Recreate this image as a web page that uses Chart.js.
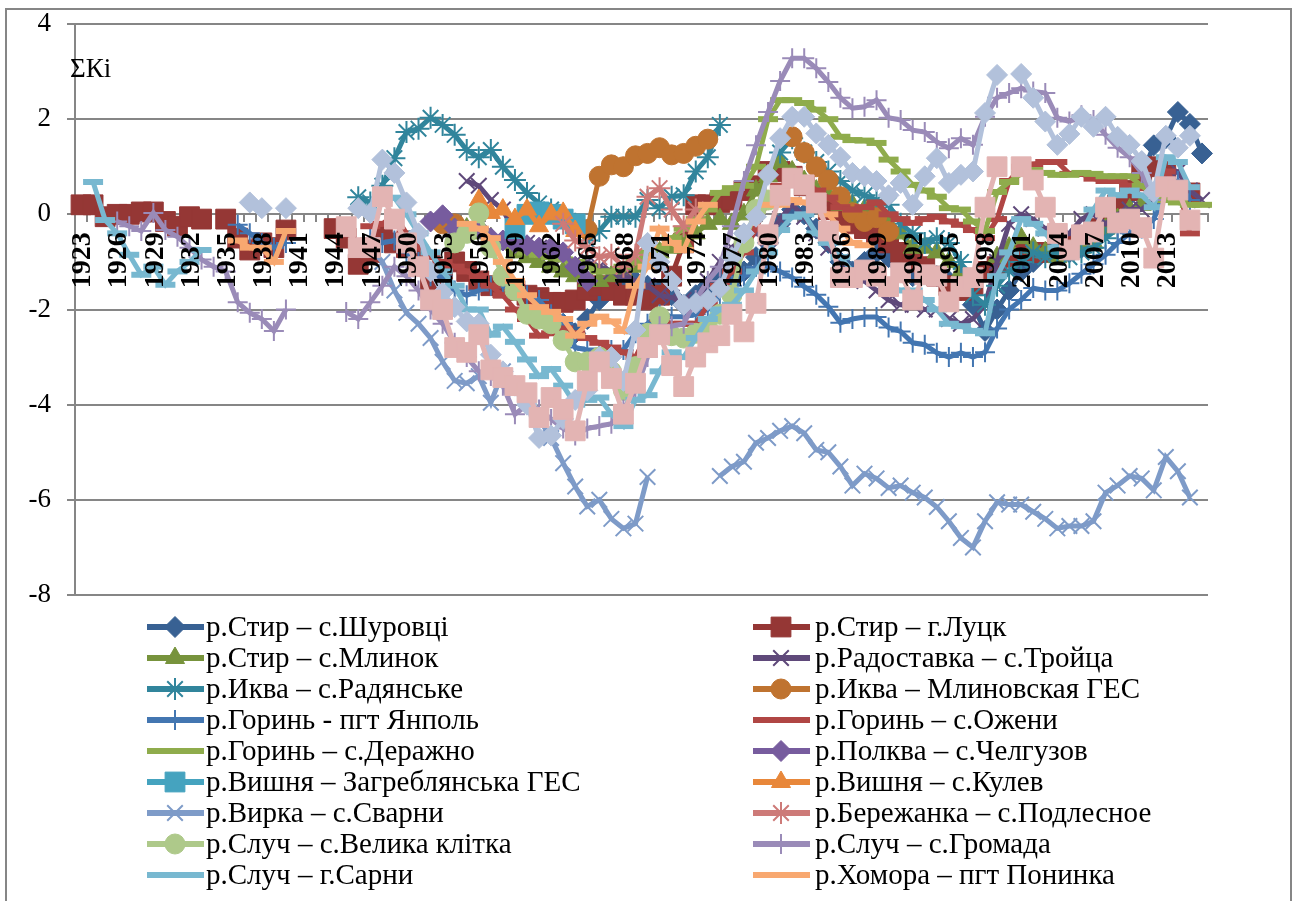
<!DOCTYPE html>
<html>
<head>
<meta charset="utf-8">
<style>
  html, body { margin: 0; padding: 0; background: #fff; overflow: hidden; }
  canvas { display: block; }
</style>
<script src="https://cdn.jsdelivr.net/npm/chart.js@4"></script>
</head>
<body>
<canvas id="chart" width="1293" height="901"></canvas>
<script>
const firstYear = 1923;
const lastYear = 2016;
const yTicks = [4, 2, 0, -2, -4, -6, -8];

const names = [
  "р.Стир – с.Шуровці", "р.Стир – г.Луцк",
  "р.Стир – с.Млинок", "р.Радоставка – с.Тройца",
  "р.Иква – с.Радянське", "р.Иква – Млиновская ГЕС",
  "р.Горинь - пгт Янполь", "р.Горинь – с.Ожени",
  "р.Горинь – с.Деражно", "р.Полква – с.Челгузов",
  "р.Вишня – Загреблянська ГЕС", "р.Вишня – с.Кулев",
  "р.Вирка – с.Сварни", "р.Бережанка – с.Подлесное",
  "р.Случ – с.Велика клітка", "р.Случ – с.Громада",
  "р.Случ – г.Сарни", "р.Хомора – пгт Понинка",
  "", ""
];

// first year of each series below
const starts = [1961, 1923, 1955, 1955, 1946, 1953, 1936, 1947, 1955, 1952, 1959, 1956, 1947, 1963, 1954, 1926, 1924, 1936, 1937, 1945];

const shurovtsi = [-1.9, -2.0, -2.3, -2.5, -2.2, -1.8, -1.5, -1.3, -1.4, -1.5, -1.6, -1.7, -1.9, -1.7, -1.5, -1.3, -1.4, -1.2, -0.9, -0.6, -0.2, 0.1, 0.0, -0.3, -0.6, -1.0, -1.2, -1.0, -0.8, -0.9, -1.1, -1.3, -1.2, -1.3, -1.4, -1.6, -1.9, -2.45, -2.0, -1.6, -1.2, -1.0, -0.8, -0.7, -0.8, -0.7, -0.5, -0.3, -0.1, 0.4, 0.8, 1.45, 1.6, 2.15, 1.9, 1.28];
const lutsk = [0.2, 0.2, -0.05, 0, 0, 0.05, 0.05, -0.15, -0.25, -0.05, -0.1, null, -0.1, -0.5, -0.75, -0.6, -0.7, -0.33, null, null, null, -0.3, -0.5, -1.05, -0.8, -0.4, -0.6, -0.7, -0.9, -1.4, -1.2, -1.0, -1.2, -1.4, -1.5, -1.55, -1.6, -1.7, -1.75, -1.85, -1.85, -1.8, -1.6, -1.5, -1.6, -1.7, -1.7, -1.8, -1.7, -1.3, -0.6, 0.2, 0.2, 0.25, 0.3, 0.5, 0.6, 0.9, 0.9, 0.8, 0.6, 0.3, 0.1, -0.1, -0.2, -0.3, -0.4, -0.6, -0.8, -1.0, -1.1, -1.3, -1.5, -1.6, -1.5, -1.2, -1.1, -0.9, -0.8, -0.8, -0.8, -0.7, -0.6, -0.5, -0.3, 0, 0.2, 0.5, 0.9, 1.0, 0.9, 0.5, 0.45];
const mlynok = [-0.3, -0.4, -0.5, -0.6, -0.8, -0.9, -1.0, -1.1, -1.2, -1.3, -1.4, -1.4, -1.3, -1.2, -1.1, -0.9, -0.8, -0.7, -0.6, -0.4, -0.2, -0.1, -0.2, 0, 0.5, 0.8, 1.1, 0.9, 0.7, 0.5, 0.4, 0.2, 0.2, 0.1, 0.1, -0.2, -0.4, -0.7, -0.7, -0.8, -1.0, -1.2, null, null, -0.9, -0.7, -0.5, -0.7, -0.8, -0.9, -0.8, -0.7, -0.6, -0.3, -0.1, 0.1, 0.2];
const radostavka = [0.7, 0.6, 0.3, 0.1, -0.4, -0.6, -0.7, -0.8, -0.9, -1.0, -1.0, -1.1, -1.2, -1.3, -1.4, -1.5, -1.7, -1.75, -1.8, -1.9, -1.4, -1.0, -0.7, -0.5, -0.4, -0.5, -0.1, 0.2, -0.05, -0.4, -0.7, -1.0, -1.2, -1.4, -1.6, -1.8, -1.9, -1.9, -2.0, -2.0, -2.2, -2.3, -2.2, -1.9, -1.0, -0.2, 0, -0.1, -0.3, -0.5, -0.4, -0.1, 0.0, -0.2, 0, 0.1, 0.1, 0.3, 0.8, 0.9, 0.5, 0.3];
const radianske = [0.36, 0.25, 0.6, 1.18, 1.73, 1.8, 2.03, 1.88, 1.67, 1.35, 1.2, 1.35, 1.0, 0.72, 0.45, 0.23, 0.1, -0.1, -0.2, -0.55, -0.35, -0.05, -0.05, -0.05, 0.3, 0.13, 0.37, 0.4, 0.9, 1.2, 1.88, null, null, null, null, 1.3, 1.6, 1.3, 1.1, 0.9, 0.7, 0.5, 0.4, 0.3, 0.2, -0.2, -0.4, -0.6, -0.5, -0.6, -1.0, -1.7, -1.9, -1.5, -1.2, -1.0, -0.8, -0.9, -0.8, -0.9, -0.8, -0.7, -0.5, -0.3];
const mlynivska = [-0.2, -0.2, null, null, null, null, null, null, null, null, null, null, -0.32, 0.8, 1.04, 1.0, 1.23, 1.28, 1.4, 1.25, 1.28, 1.43, 1.58, null, null, null, null, null, null, 1.63, 1.3, 1.0, 0.72, 0.37, 0.03, -0.15, -0.07, -0.36];
const yanpol = [-0.22, -0.4, -0.6, -0.7, -0.6, null, null, null, null, null, null, -0.5, -0.6, -0.55, -0.8, -1.0, -1.3, -1.3, -1.6, -1.7, -1.6, -1.5, -1.5, -1.6, -1.7, -1.8, -2.1, -2.3, -2.8, -2.85, -2.85, -2.85, -2.85, -2.5, -2.3, -2.1, -2.15, -2.15, -2.1, -2.0, -1.7, -1.5, -1.3, -1.1, -1.1, -1.2, -1.33, -1.52, -1.69, -1.94, -2.28, -2.2, -2.16, -2.16, -2.38, -2.46, -2.7, -2.74, -2.91, -3.0, -2.91, -3.0, -2.9, -2.4, -2.0, -1.8, -1.55, -1.6, -1.6, -1.45, -1.25, -1.05, -0.85, -0.6, -0.4, -0.3, -0.1, 0.5, 0.7, 0.3];
const ozheny = [-0.25, -0.2, 0, -0.4, -0.7, -0.9, -1.0, -1.1, -1.2, -1.3, -1.5, -1.7, -2.0, -2.2, -2.55, -2.5, -2.4, -2.5, -2.6, -2.7, -2.8, -2.9, -3.0, -2.5, -2.2, -2.3, -2.3, -2.3, -1.9, -1.5, -1.2, -0.8, -0.3, 0.3, 0.6, 0.7, 0.75, 0.5, 0.35, 0.15, 0.1, 0.15, 0.25, 0, -0.1, -0.18, -0.1, -0.05, -0.15, -0.22, -0.33, -0.5, -0.1, 0.7, 1.0, 1.05, 1.1, 1.1, 0.85, 0.85, 0.75, 0.7, 0.7, 0.6, 0.55, 0.5, 0.9, 0.6, -0.4];
const derazhno = [-0.3, -0.4, -0.5, -0.6, -0.7, -0.8, -0.85, -0.9, -0.95, -1.0, -1.1, -1.2, -1.2, -1.1, -1.0, -0.8, -0.7, -0.5, -0.3, -0.1, 0.1, 0.45, 0.55, 0.6, 1.0, 2.0, 2.4, 2.4, 2.34, 2.2, 2.0, 1.63, 1.56, 1.55, 1.5, 1.15, 0.9, 0.62, 0.5, 0.37, 0.13, 0.1, -0.15, -0.35, 0.47, 0.68, 0.85, 0.93, 0.87, 0.83, 0.83, 0.87, 0.85, 0.8, 0.8, 0.8, 0.6, 0.4, 0.3, 0.25, 0.2, 0.2];
const chelguzov = [-0.15, -0.02, -0.3, -0.35, -0.3, -0.5, -0.55, -0.6, -0.65, -0.7, -0.7, -0.8, -1.1, -1.4];
const zagreblia = [-0.3, 0, 0.05, 0, -0.1, -0.2];
const kulev = [0.3, 0.03, 0.1, -0.1, 0.1, -0.25, 0, 0.03, -0.35];
const svarny = [-0.7, -1.0, -1.6, -2.07, -2.3, -2.6, -3.1, -3.5, -3.55, -3.4, -3.96, -3.3, -3.7, -4.0, -4.3, -4.7, -5.23, -5.72, -6.14, -6.0, -6.4, -6.6, -6.5, -5.52, null, null, null, null, null, -5.5, -5.3, -5.2, -4.8, -4.7, -4.55, -4.45, -4.6, -4.95, -5.0, -5.3, -5.7, -5.45, -5.55, -5.75, -5.7, -5.85, -5.95, -6.15, -6.45, -6.8, -7.0, -6.45, -6.05, -6.1, -6.1, -6.25, -6.4, -6.6, -6.55, -6.55, -6.45, -5.85, -5.7, -5.5, -5.55, -5.8, -5.1, -5.4, -5.95];
const berezhanka = [-0.2, -0.55, -0.7, -0.9, -0.85, -1.1, -0.85, 0.37, 0.55, 0.1, -0.25, 0.1];
const klitka = [-0.6, -0.4, 0.03, -0.7, -1.3, -1.6, -2.1, -2.2, -2.3, -2.65, -3.1, -3.1, -3.0, -3.3, -3.7, -3.2, -2.5, -2.15, -2.55, -2.6, -2.5, -2.4, -2.1, -1.7, -0.6, 0.1, 0.3];
const hromada = [-0.15, -0.25, -0.35, 0.03, -0.33, -0.47, -0.7, -0.95, -1.1, -1.2, -1.85, -2.07, -2.2, -2.45, -2.0, null, null, null, null, -2.05, -2.2, -1.85, -1.5, -1.1, -1.3, -1.6, -2.0, -2.3, -2.7, -3.0, -3.3, -3.4, -3.6, -4.2, -4.0, -4.1, -4.3, -4.5, -4.65, -4.5, -4.45, -4.4, -4.1, -3.7, -3.0, -2.35, -2.35, -2.3, -1.8, -1.4, -1.1, -0.25, 0.7, 1.45, 2.15, 2.8, 3.28, 3.28, 3.07, 2.78, 2.45, 2.23, 2.26, 2.4, 2.03, 1.98, 1.77, 1.73, 1.52, 1.39, 1.6, 1.46, 2.05, 2.45, 2.55, 2.65, 2.58, 2.55, 2.03, 1.95, 2.08, 1.98, 1.67, 1.4, 1.2, 0.87, 0.3];
const sarny = [0.68, -0.12, -0.4, -0.85, -1.27, -1.1, -1.48, -1.2, -1.0, -0.75, null, null, null, null, null, null, null, null, null, null, null, null, null, null, 0.3, 0.35, 0, -0.4, -0.8, -1.2, -1.5, -2.0, -2.0, -2.53, -2.36, -2.68, -3.05, -3.4, -3.25, -3.6, -4.0, -3.9, -3.85, -4.2, -4.45, -3.9, -3.8, -3.3, -2.9, -3.0, -2.6, -2.2, -2.0, -1.9, -1.6, -1.2, -0.8, -0.33, -0.05, 0, -0.4, -0.6, -0.9, -1.2, -1.3, -1.4, -1.5, -1.6, -1.6, -1.8, -2.0, -2.3, -2.35, -2.45, -2.5, -1.3, -0.8, -0.1, -0.2, -0.4, -0.7, -0.7, -0.4, 0.1, 0.5, 0.4, 0.5, 0.4, 0.15, 1.2, 1.1, 0.57];
const khomora = [-0.55, -0.7, -0.7, -1.0, -0.35, null, null, null, null, null, null, null, null, null, null, null, null, null, null, -0.2, -0.3, -0.5, -1.0, -1.4, -1.7, -1.95, -2.05, -2.2, -2.55, -2.3, -2.15, -2.25, -2.45, -1.5, -1.1, -0.3, -0.6, -0.75, -0.15, 0.2, null, null, null, null, 0.2, 0.2, 0.3, 0.25, 0.1, 0, -0.3, -0.6, -0.65];
const diamonds = [0.25, 0.13, null, 0.13, null, null, null, null, null, 0.13, 0.03, 1.15, 0.87, 0.25, -0.4, -1.2, -1.65, -1.95, -2.25, -2.3, -2.95, -3.3, -3.6, -4.0, -4.7, -4.65, -4.3, -3.9, -3.7, -3.0, -3.0, -3.5, -2.43, -0.6, -1.0, -1.4, -1.9, -1.87, -1.8, -1.55, -0.9, -0.4, -0.05, 0.83, 1.6, 2.05, 2.05, 1.7, 1.46, 1.2, 0.87, 0.8, 0.7, 0.4, 0.66, 0.2, 0.8, 1.18, 0.66, 0.83, 0.9, 2.13, 2.93, null, 2.95, 2.45, 1.95, 1.46, 1.69, 2.05, 1.84, 2.05, 1.63, 1.46, 1.12, 0.47, 1.65, 1.4, 1.65];
const squares = [-0.26, -0.7, -0.7, 0.37, -0.1, -0.6, -1.1, -1.8, -2.0, -2.8, -2.9, -2.53, -3.27, -3.43, -3.6, -3.75, -4.27, -3.85, -4.1, -4.55, -3.5, -3.1, -3.45, -4.2, -3.55, -2.8, -2.53, -3.18, -3.62, -3.0, -2.7, -2.55, -2.1, -2.47, -1.87, -0.43, 0.4, 0.76, 0.62, 0.24, -0.35, -1.33, -1.33, -1.17, -1.3, -1.52, -1.23, -1.8, -1.27, -1.3, -1.84, -1.52, -1.33, 0.15, 1.0, null, 1.0, 0.72, 0.15, -0.4, -0.75, -0.43, -0.37, 0.15, -0.18, -0.1, -0.28, -0.92, 0.58, 0.51, -0.12];

const allValues = [shurovtsi, lutsk, mlynok, radostavka, radianske, mlynivska, yanpol, ozheny, derazhno, chelguzov, zagreblia, kulev, svarny, berezhanka, klitka, hromada, sarny, khomora, diamonds, squares];

const colors = ["#386193", "#953735", "#77933C", "#5F497A", "#31859C", "#BF7330", "#4376B1", "#B04644", "#8FAC4C", "#775C9E", "#45A3BF", "#E8873A", "#7E9BC8", "#CD7A78", "#AEC98A", "#9A8BB8", "#78B8D0", "#F8A870", "#B2C1DB", "#E3B4B3"];
const markers = ["rectRot", "rect", "triangle", "crossRot", "star", "circle", "cross", "line", "line", "rectRot", "rect", "triangle", "crossRot", "star", "circle", "cross", "line", "line", "rectRot", "rect"];
const markerSizes = { rectRot: 10.5, rect: 14, triangle: 11, crossRot: 11, star: 11, circle: 10, cross: 10, line: 10 };
const markerBorders = { crossRot: 2, star: 2, cross: 2, line: 6 };

const years = [];
for (let y = firstYear; y <= lastYear; y++) years.push(String(y));

function padSeries(start, values) {
  const out = new Array(years.length).fill(null);
  values.forEach((v, i) => { out[start - firstYear + i] = v; });
  return out;
}

function markerOpts(i) {
  const style = markers[i];
  return {
    pointStyle: style,
    radius: markerSizes[style],
    borderWidth: markerBorders[style] || 1,
    borderColor: colors[i],
    backgroundColor: colors[i],
  };
}

// frame, axis note and the two column legend (needs line + marker, native one can't)
const decorPlugin = {
  id: "decor",
  beforeDraw(chart) {
    const c = chart.ctx;
    c.save();
    c.fillStyle = "#fff";
    c.fillRect(0, 0, chart.width, chart.height);
    c.strokeStyle = "#868686";
    c.lineWidth = 2;
    c.strokeRect(6, 9, 1285, 900);
    c.restore();
  },
  afterDraw(chart) {
    const c = chart.ctx;
    c.save();
    c.fillStyle = "#000";
    c.font = "27px 'Liberation Serif'";
    c.textBaseline = "middle";
    c.fillText("ΣКі", 70, 70);
    c.font = "29px 'Liberation Serif'";
    for (let i = 0; i < 18; i++) {
      const col = i % 2;
      const row = Math.floor(i / 2);
      const x = col ? 753 : 147;
      const y = 627 + row * 31;
      c.strokeStyle = colors[i];
      c.lineWidth = 6;
      c.beginPath();
      c.moveTo(x, y);
      c.lineTo(x + 57, y);
      c.stroke();
      const m = markerOpts(i);
      if (markers[i] !== "line") {
        c.strokeStyle = m.borderColor;
        c.fillStyle = m.backgroundColor;
        c.lineWidth = m.borderWidth;
        Chart.helpers.drawPoint(c, { pointStyle: m.pointStyle, radius: m.radius, borderWidth: m.borderWidth, rotation: 0 }, x + 28, y);
      }
      c.fillStyle = "#000";
      c.fillText(names[i], col ? 815 : 206, y + 1);
    }
    c.restore();
  },
};

new Chart(document.getElementById("chart").getContext("2d"), {
  type: "line",
  data: {
    labels: years,
    datasets: allValues.map((vals, i) => {
      const m = markerOpts(i);
      return {
        label: names[i],
        data: padSeries(starts[i], vals),
        borderColor: colors[i],
        backgroundColor: colors[i],
        borderWidth: 5,
        tension: 0,
        spanGaps: false,
        pointStyle: m.pointStyle,
        pointRadius: m.radius,
        pointHoverRadius: m.radius,
        pointBorderWidth: m.borderWidth,
        pointBorderColor: m.borderColor,
        pointBackgroundColor: m.backgroundColor,
        order: allValues.length - i,
      };
    }),
  },
  options: {
    responsive: false,
    animation: false,
    clip: false,
    layout: { padding: { left: 0, top: 24, right: 85, bottom: 306 } },
    plugins: { legend: { display: false }, tooltip: { enabled: false } },
    scales: {
      x: {
        offset: true,
        position: { y: 0 },
        afterFit(s) { s.paddingLeft = 0; s.paddingRight = 0; s.paddingTop = 0; s.paddingBottom = 0; },
        grid: { drawOnChartArea: false, drawTicks: true, offset: true, tickLength: 7, color: "#868686", lineWidth: 2 },
        border: { color: "#868686", width: 2 },
        ticks: {
          z: 1,
          autoSkip: false,
          minRotation: 90,
          maxRotation: 90,
          padding: 11,
          labelOffset: 2,
          color: "#000",
          font: { family: "'Liberation Serif'", size: 28, weight: "bold" },
          callback(v, i) { return i % 3 === 0 && i < years.length - 1 ? years[i] : ""; },
        },
      },
      y: {
        min: Math.min(...yTicks),
        max: Math.max(...yTicks),
        afterFit(s) { s.width = 75; s.paddingTop = 0; s.paddingBottom = 0; },
        grid: { color: "#868686", lineWidth: 2, tickLength: 8 },
        border: { color: "#868686", width: 2 },
        ticks: {
          stepSize: 2,
          padding: 16,
          color: "#000",
          font: { family: "'Liberation Serif'", size: 27 },
        },
      },
    },
  },
  plugins: [decorPlugin],
});
</script>
</body>
</html>
